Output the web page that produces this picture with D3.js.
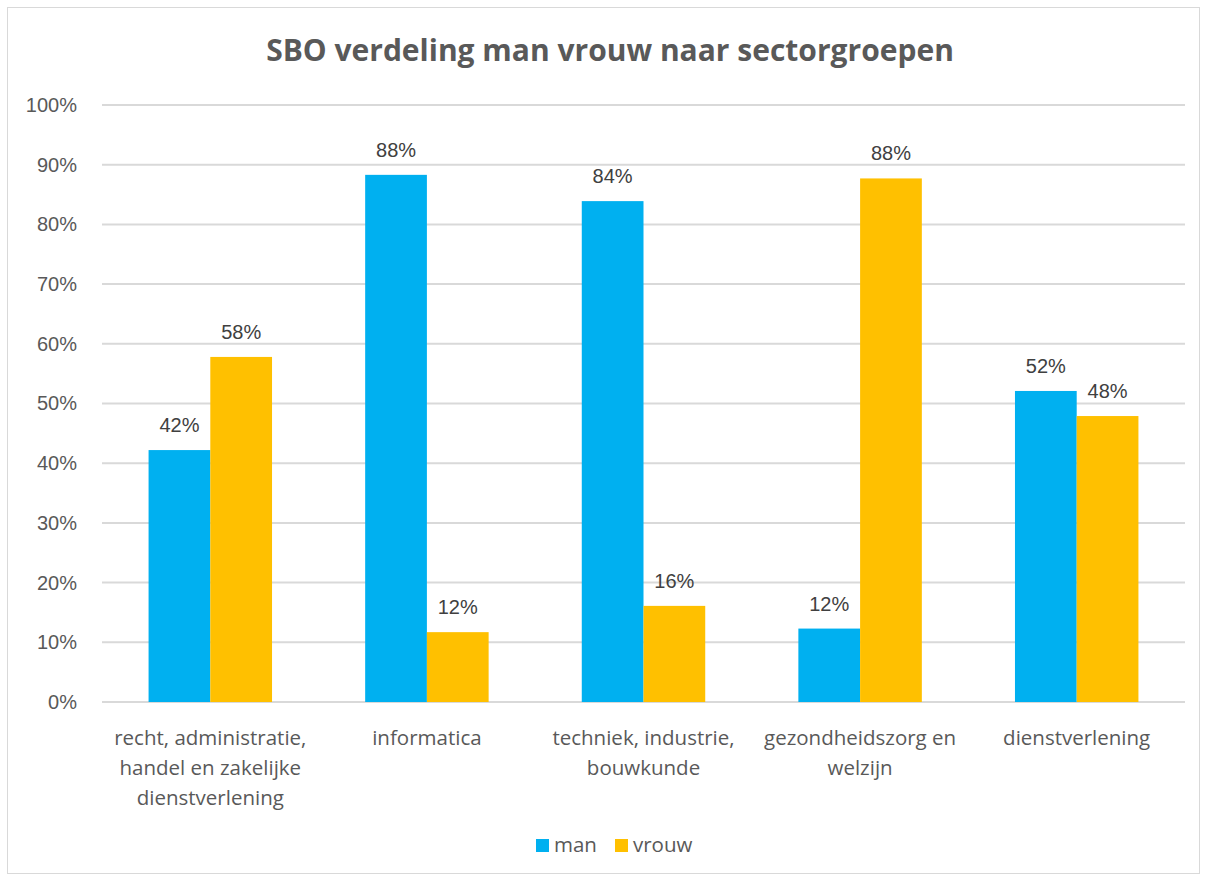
<!DOCTYPE html>
<html>
<head>
<meta charset="utf-8">
<script src="https://cdn.jsdelivr.net/npm/d3@7"></script>
<style>
  body { margin: 0; background: #fff; }
  svg { display: block; }
</style>
</head>
<body>
<div id="chart"></div>
<script>
"use strict";

// data
var categories = [
    ["recht, administratie,", "handel en zakelijke", "dienstverlening"],
    ["informatica"],
    ["techniek, industrie,", "bouwkunde"],
    ["gezondheidszorg en", "welzijn"],
    ["dienstverlening"]
];
var seriesNames = ["man", "vrouw"];
var manValues = [0.422, 0.883, 0.839, 0.123, 0.521];
var vrouwValues = [0.578, 0.117, 0.161, 0.877, 0.479];
var yTicks = [0, 0.1, 0.2, 0.3, 0.4, 0.5, 0.6, 0.7, 0.8, 0.9, 1];
var colors = ["#00b0f0", "#ffc000"];

var width = 1205, height = 877;
var margin = { left: 102, right: 20, top: 105, bottom: 175 };

var svg = d3.select("#chart").append("svg")
    .attr("width", width)
    .attr("height", height);

// chart border
svg.append("rect")
    .attr("x", 7.5).attr("y", 7.5)
    .attr("width", width - 13).attr("height", height - 11)
    .attr("fill", "#fff")
    .attr("stroke", "#d9d9d9");

svg.append("text")
    .attr("x", 610).attr("y", 61)
    .attr("text-anchor", "middle")
    .attr("font-family", "'Open Sans', sans-serif")
    .attr("font-weight", "bold")
    .attr("font-size", "30px")
    .attr("fill", "#595959")
    .text("SBO verdeling man vrouw naar sectorgroepen");

var x0 = d3.scaleBand()
    .domain(d3.range(categories.length))
    .range([margin.left, 1185])
    .paddingInner(0.43)
    .paddingOuter(0.215);

var x1 = d3.scaleBand()
    .domain(seriesNames)
    .range([0, x0.bandwidth()]);

var y = d3.scaleLinear()
    .domain([0, 1])
    .range([702, margin.top]);

// gridlines
svg.append("g")
    .selectAll("line")
    .data(yTicks)
    .enter().append("line")
    .attr("x1", margin.left).attr("x2", 1185)
    .attr("y1", function (d) { return y(d); })
    .attr("y2", function (d) { return y(d); })
    .attr("stroke", "#d9d9d9")
    .attr("stroke-width", 2);

// y axis labels
var yAxis = svg.append("g")
    .attr("transform", "translate(" + (margin.left - 22) + ",0)")
    .call(d3.axisLeft(y).tickValues(yTicks).tickFormat(d3.format(".0%")).tickSize(0));
yAxis.select(".domain").remove();
yAxis.selectAll("text")
    .attr("font-family", "'Liberation Sans', Arial, sans-serif")
    .attr("font-size", "20px")
    .attr("fill", "#595959");

var rows = categories.map(function (c, i) {
    return [
        { key: "man", i: i, v: manValues[i] },
        { key: "vrouw", i: i, v: vrouwValues[i] }
    ];
});

var groups = svg.append("g")
    .selectAll("g")
    .data(rows)
    .enter().append("g")
    .attr("transform", function (d, i) { return "translate(" + x0(i) + ",0)"; });

groups.selectAll("rect")
    .data(function (d) { return d; })
    .enter().append("rect")
    .attr("x", function (d) { return x1(d.key); })
    .attr("width", x1.bandwidth())
    .attr("y", function (d) { return y(d.v); })
    .attr("height", function (d) { return y(0) - y(d.v); })
    .attr("fill", function (d) { return colors[seriesNames.indexOf(d.key)]; });

// value labels
groups.selectAll("text")
    .data(function (d) { return d; })
    .enter().append("text")
    .attr("x", function (d) { return x1(d.key) + x1.bandwidth() / 2; })
    .attr("y", function (d) { return y(d.v) - 18; })
    .attr("text-anchor", "middle")
    .attr("font-family", "'Liberation Sans', Arial, sans-serif")
    .attr("font-size", "20px")
    .attr("fill", "#404040")
    .text(function (d) { return Math.round(d.v * 100) + "%"; });

// category labels
var catLabels = svg.append("g")
    .selectAll("text")
    .data(categories)
    .enter().append("text")
    .attr("x", function (d, i) { return x0(i) + x0.bandwidth() / 2; })
    .attr("y", 745)
    .attr("text-anchor", "middle")
    .attr("font-family", "'Open Sans', sans-serif")
    .attr("font-size", "20.5px")
    .attr("fill", "#595959");

catLabels.selectAll("tspan")
    .data(function (d) { return d; })
    .enter().append("tspan")
    .attr("x", function () { return d3.select(this.parentNode).attr("x"); })
    .attr("dy", function (d, j) { return j === 0 ? 0 : 30; })
    .text(function (d) { return d; });

// legend
var legend = svg.append("g")
    .selectAll("g")
    .data(seriesNames)
    .enter().append("g")
    .attr("transform", function (d, i) { return "translate(" + (536 + i * 79) + ",839)"; });

legend.append("rect")
    .attr("width", 13).attr("height", 13)
    .attr("fill", function (d, i) { return colors[i]; });

legend.append("text")
    .attr("x", 18).attr("y", 13)
    .attr("font-family", "'Open Sans', sans-serif")
    .attr("font-size", "20.5px")
    .attr("fill", "#595959")
    .text(function (d) { return d; });
</script>
</body>
</html>
